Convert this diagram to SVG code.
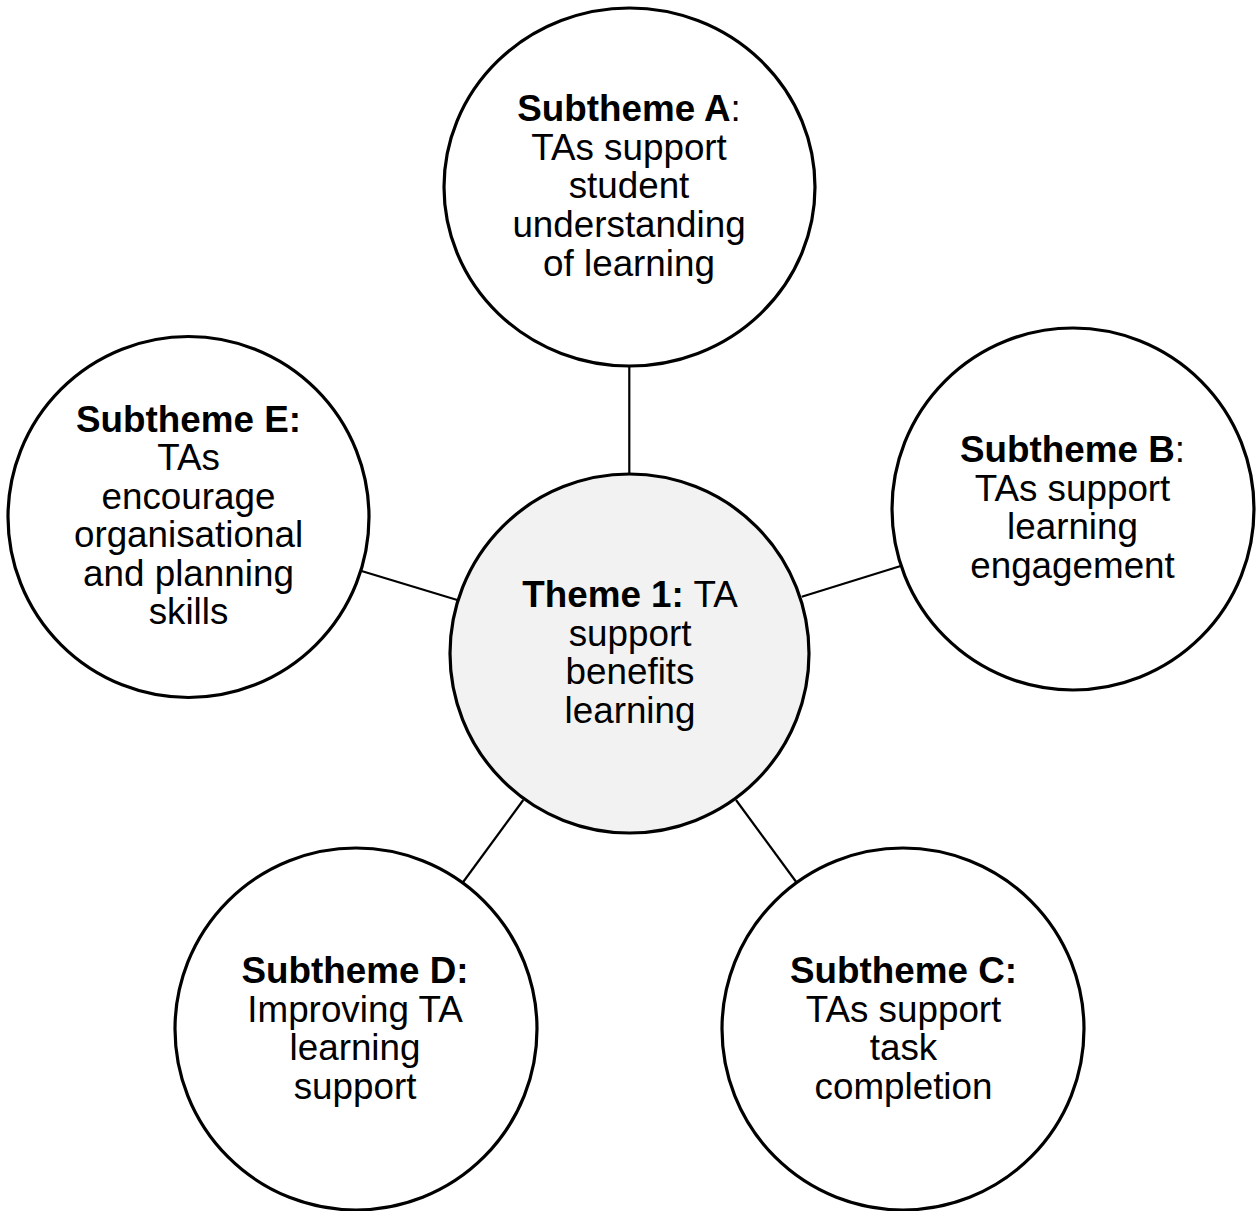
<svg xmlns="http://www.w3.org/2000/svg" width="1257" height="1211" viewBox="0 0 1257 1211">
<style>
.node{fill:#ffffff;stroke:#000000;stroke-width:3.2}
.main{fill:#f2f2f2;stroke:#000000;stroke-width:3.2}
.conn line{stroke:#000000;stroke-width:2.2}
text{font-family:"Liberation Sans",Arial,sans-serif;font-size:36.8px;fill:#000000;text-anchor:middle}
.b{font-weight:bold}
</style>
<rect width="1257" height="1211" fill="#ffffff"/>
<g id="connectors" class="conn">
<line x1="629.3" y1="366" x2="629.3" y2="474"/>
<line x1="801.7" y1="596.7" x2="900.7" y2="566"/>
<line x1="736" y1="800" x2="797.7" y2="884"/>
<line x1="523.3" y1="800" x2="461.7" y2="884"/>
<line x1="360.7" y1="570.7" x2="457.3" y2="600"/>
</g>
<g id="theme1">
<circle class="main" cx="629.5" cy="653.5" r="179.5"/>
<text x="630" y="607"><tspan class="b">Theme 1:</tspan> TA</text>
<text x="630" y="645.5">support</text>
<text x="630" y="684">benefits</text>
<text x="630" y="722.5">learning</text>
</g>
<g id="subthemeA">
<ellipse class="node" cx="629.5" cy="187" rx="185.5" ry="179"/>
<text x="629" y="121"><tspan class="b">Subtheme A</tspan>:</text>
<text x="629" y="159.7">TAs support</text>
<text x="629" y="198.4">student</text>
<text x="629" y="237.1">understanding</text>
<text x="629" y="275.8">of learning</text>
</g>
<g id="subthemeB">
<circle class="node" cx="1073" cy="509" r="181"/>
<text x="1072.5" y="462"><tspan class="b">Subtheme B</tspan>:</text>
<text x="1072.5" y="500.7">TAs support</text>
<text x="1072.5" y="539.4">learning</text>
<text x="1072.5" y="578.1">engagement</text>
</g>
<g id="subthemeC">
<circle class="node" cx="903" cy="1029" r="181"/>
<text x="903.5" y="983" class="b">Subtheme C:</text>
<text x="903.5" y="1021.6">TAs support</text>
<text x="903.5" y="1060.2">task</text>
<text x="903.5" y="1098.8">completion</text>
</g>
<g id="subthemeD">
<circle class="node" cx="356" cy="1029" r="181"/>
<text x="355" y="983" class="b">Subtheme D:</text>
<text x="355" y="1021.6">Improving TA</text>
<text x="355" y="1060.2">learning</text>
<text x="355" y="1098.8">support</text>
</g>
<g id="subthemeE">
<circle class="node" cx="188.5" cy="517" r="180.5"/>
<text x="188.5" y="432" class="b">Subtheme E:</text>
<text x="188.5" y="470.4">TAs</text>
<text x="188.5" y="508.8">encourage</text>
<text x="188.5" y="547.2">organisational</text>
<text x="188.5" y="585.6">and planning</text>
<text x="188.5" y="624">skills</text>
</g>
</svg>
